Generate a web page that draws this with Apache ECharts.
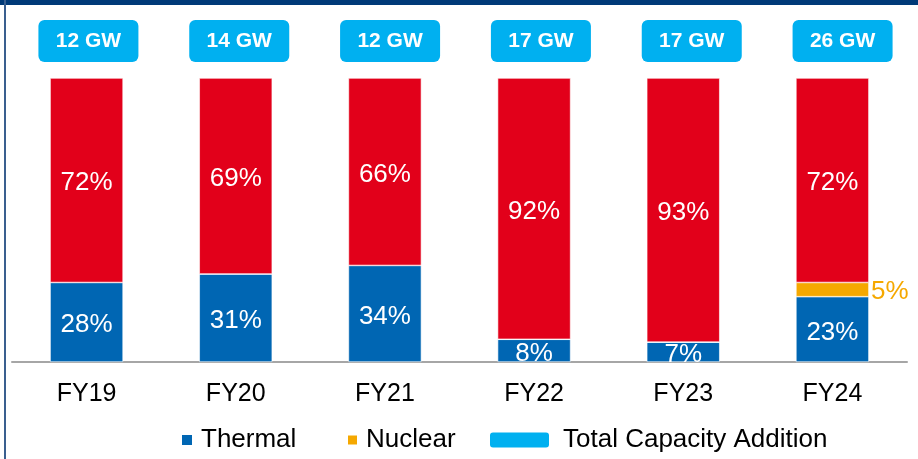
<!DOCTYPE html>
<html>
<head>
<meta charset="utf-8">
<script src="https://cdn.jsdelivr.net/npm/echarts@6/dist/echarts.min.js"></script>
<style>
html,body{margin:0;padding:0;background:#fff;}
#c{width:918px;height:459px;position:relative;}
#topbar{position:absolute;left:0;top:0;width:918px;height:5px;background:#003a78;}
#leftbar{position:absolute;left:4px;top:0;width:2px;height:459px;background:#3a5f8f;}
#chart{position:absolute;left:0;top:0;width:918px;height:459px;}
</style>
</head>
<body>
<div id="c"><div id="chart"></div><div id="topbar"></div><div id="leftbar"></div></div>
<script>
const categories = ['FY19','FY20','FY21','FY22','FY23','FY24'];
const thermal = [28, 31, 34, 8, 7, 23];
const nuclear = [0, 0, 0, 0, 0, 5];
const renewable = [72, 69, 66, 92, 93, 72];
const capacityGW = [12, 14, 12, 17, 17, 26];

const FONT = 'Arial, "Liberation Sans", sans-serif';
const BOX = 'path://M6,0H94A6,6,0,0,1,100,6V36A6,6,0,0,1,94,42H6A6,6,0,0,1,0,36V6A6,6,0,0,1,6,0Z';
const PILL = 'path://M3,0H56A3,3,0,0,1,59,3V12A3,3,0,0,1,56,15H3A3,3,0,0,1,0,12V3A3,3,0,0,1,3,0Z';
const chart = echarts.init(document.getElementById('chart'), null, {renderer:'canvas'});
chart.setOption({
  animation: false,
  grid: [
    {left: 12, right: 11, top: 78, bottom: 97},
    {left: 13, right: -3, top: 20, height: 42}
  ],
  xAxis: [
    {type:'category', gridIndex:0, data: categories,
     axisLine:{lineStyle:{color:'#a6a6a6', width:2}},
     axisTick:{show:false},
     axisLabel:{color:'#000', fontSize:25, fontFamily:FONT, margin:20}},
    {type:'category', gridIndex:1, data: categories, show:false}
  ],
  yAxis: [
    {type:'value', gridIndex:0, min:0, max:100, show:false},
    {type:'value', gridIndex:1, min:0, max:1, show:false}
  ],
  legend: [
    {data:[{name:'Thermal', icon:'rect'}], left:180, top:427, padding:0, itemWidth:12, itemHeight:12, itemGap:8,
     formatter: name => '{s|}' + name,
     textStyle:{fontSize:26, fontFamily:FONT, color:'#000', rich:{s:{width:3}}}},
    {data:[{name:'Nuclear', icon:'rect'}], left:346, top:427, padding:0, itemWidth:11, itemHeight:11,
     formatter: name => '{s|}' + name,
     textStyle:{fontSize:26, fontFamily:FONT, color:'#000', rich:{s:{width:3}}}},
    {data:[{name:'Total Capacity Addition', icon:PILL}], left:490, top:427, padding:0, itemWidth:59, itemHeight:15, itemGap:8,
     symbolKeepAspect:false,
     formatter: name => '{s|}' + name,
     textStyle:{fontSize:26, fontFamily:FONT, color:'#000', rich:{s:{width:9}}}}
  ],
  series: [
    {name:'Thermal', type:'bar', stack:'s', data: thermal, barWidth: 73,
     itemStyle:{color:'#0066b3', borderColor:'#ffffff', borderWidth:0.6},
     label:{show:true, position:'inside', offset:[0,3], color:'#fff', fontSize:26, fontFamily:FONT, formatter: p => p.value + '%'}},
    {name:'Nuclear', type:'bar', stack:'s', data: nuclear, barWidth: 73,
     itemStyle:{color:'#f5a800', borderColor:'#ffffff', borderWidth:0.6},
     label:{show:true, position:'right', distance:2, offset:[0,2], color:'#f5a800', fontSize:26, fontFamily:FONT,
            formatter: p => p.value ? p.value + '%' : ''}},
    {name:'Renewable', type:'bar', stack:'s', data: renewable, barWidth: 73,
     itemStyle:{color:'#e2001a', borderColor:'#ffffff', borderWidth:0.6},
     label:{show:true, position:'inside', offset:[0,3], color:'#fff', fontSize:26, fontFamily:FONT, formatter: p => p.value + '%'}},
    {name:'Total Capacity Addition', type:'scatter', xAxisIndex:1, yAxisIndex:1,
     data: capacityGW.map((v,i) => ({value:[i, 0.5], gw:v})),
     symbol: BOX, symbolSize:[100,42], symbolKeepAspect:false,
     itemStyle:{color:'#00b0f0', opacity:1},
     label:{show:true, position:'inside', color:'#fff', fontSize:21, fontWeight:'bold', fontFamily:FONT,
            formatter: p => p.data.gw + ' GW'}}
  ]
});
</script>
</body>
</html>
